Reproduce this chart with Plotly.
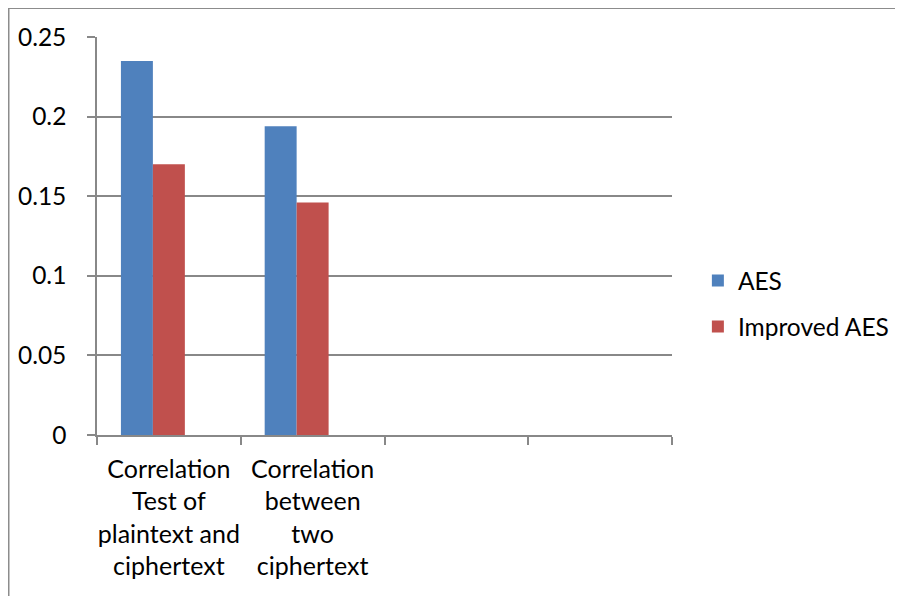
import plotly.graph_objects as go

categories = ["Correlation<br>Test of<br>plaintext and<br>ciphertext",
              "Correlation<br>between<br>two<br>ciphertext", " ", "  "]
aes = [0.235, 0.194, None, None]
improved_aes = [0.170, 0.146, None, None]
empty_series = [None, None, None, None]
y_ticks = [0, 0.05, 0.1, 0.15, 0.2, 0.25]
y_ticklabels = ["0", "0.05", "0.1", "0.15", "0.2", "0.25"]

FONT = "Lato, Carlito, Calibri, sans-serif"
GRID = "#888888"

fig = go.Figure()
fig.add_trace(go.Bar(x=categories, y=aes, name="AES", marker_color="#4F81BD",
                     marker_line_width=0, legendgroup="a"))
fig.add_trace(go.Bar(x=categories, y=improved_aes, name="Improved AES",
                     marker_color="#C0504D", marker_line_width=0, legendgroup="b"))
fig.add_trace(go.Bar(x=categories, y=empty_series, name="", showlegend=False,
                     marker_color="#9BBB59", marker_line_width=0, legendgroup="c"))

fig.update_layout(
    width=903, height=596,
    margin=dict(l=89, r=239, t=29, b=169, autoexpand=False),
    paper_bgcolor="white", plot_bgcolor="white",
    barmode="group", bargap=0.333, bargroupgap=0,
    font=dict(family=FONT, size=25, color="black"),
    showlegend=True,
    legend=dict(x=1.045, y=0.33, xanchor="left", yanchor="middle",
                font=dict(size=24.5), tracegroupgap=11,
                traceorder="grouped", itemwidth=30, bgcolor="rgba(0,0,0,0)"),
    xaxis=dict(type="category", tickson="boundaries", ticks="outside",
               ticklen=8, tickwidth=1.5, tickcolor=GRID, showline=True,
               linecolor=GRID, linewidth=1.5, showgrid=False,
               tickfont=dict(size=25), tickangle=0, fixedrange=True,
               ticklabelstandoff=11),
    yaxis=dict(range=[0, 0.25], tickvals=y_ticks, ticktext=y_ticklabels,
               ticks="outside", ticklen=8, tickwidth=1.5, tickcolor=GRID,
               showline=True, linecolor=GRID, linewidth=1.5,
               showgrid=True, gridcolor=GRID, gridwidth=1.5,
               zeroline=False, tickfont=dict(size=24.5), fixedrange=True,
               ticklabelstandoff=16),
    shapes=[dict(type="rect", xref="paper", yref="paper",
                 x0=(0.5 - 89) / 575, x1=(940 - 89) / 575,
                 y0=-(640 - 427) / 398, y1=1 + (29 - 0) / 398,
                 line=dict(color="#8c8c8c", width=2), layer="below")],
)

fig.write_html("out.html")
